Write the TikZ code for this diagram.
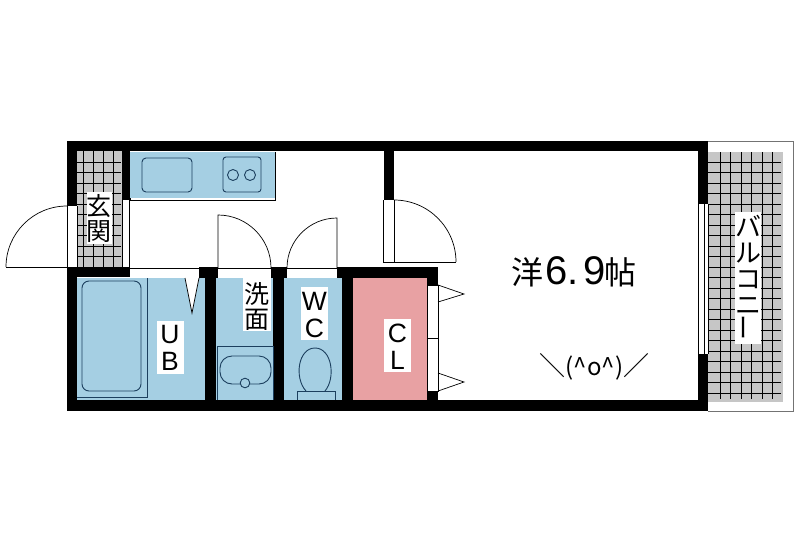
\documentclass[tikz,border=0pt]{standalone}
\usepackage{fontspec}
\setmainfont{Liberation Sans}
\newfontfamily\jpfont{Noto Sans CJK JP}
\definecolor{roomblue}{HTML}{A5CFE3}
\definecolor{clpink}{HTML}{E8A1A3}
\definecolor{tilegray}{HTML}{C6C6C6}
\definecolor{fixture}{HTML}{1C3F5E}
\tikzset{
  wall/.style={fill=black,draw=none},
  thin line/.style={draw=black,line width=0.7pt},
  fixture line/.style={draw=fixture,line width=0.9pt},
  tile/.style={fill=tilegray,draw=none},
  grout/.style={draw=black,line width=0.8pt},
  labelbox/.style={fill=white,draw=none,inner sep=0pt,align=center},
  jp/.style={font=\jpfont\fontsize{#1}{#1}\selectfont},
  latin/.style={font=\fontsize{26.5}{27}\selectfont}
}
\begin{document}
\begin{tikzpicture}[x=1pt,y=-1pt]
\useasboundingbox[fill=white] (0,0) rectangle (800,552);
% balcony
\draw[draw=black!55,line width=0.7pt] (708,141) -- (793,141) -- (793,411) -- (708,411);
\fill[tile] (708,152) rectangle (783,402);
\foreach \x in {720,730.5,741,751.5,762,772.5}
  \draw[grout] (\x,152) -- (\x,399);
\foreach \y in {162,172.5,183,193.5,204,214.5,225,235.5,246,256.5,267,277.5,288,298.5,309,319.5,330,340.5,351,361.5,372,382.5,393}
  \draw[grout] (708,\y) -- (781,\y);
% entrance tile
\fill[tile] (77,151) rectangle (122,268);
\foreach \x in {83,93,103,113}
  \draw[grout] (\x,151) -- (\x,267);
\foreach \y in {162,172,183,193,204,214,225,235,246,256}
  \draw[grout] (77,\y) -- (121,\y);
% rooms
\fill[roomblue] (77,278) rectangle (205,400);
\fill[roomblue] (216,278) rectangle (273,400);
\fill[roomblue] (284,278) rectangle (342,400);
\fill[clpink] (353,278) rectangle (427,400);
% kitchen
\draw[thin line,fill=white] (130,152) rectangle (275,200);
\fill[roomblue] (130,152) rectangle (275,198);
\draw[fixture line,rounded corners=4pt] (142,158) rectangle (192,192);
\draw[fixture line,rounded corners=3pt] (223,157) rectangle (261,192);
\draw[fixture line] (233,175) circle (5.5);
\draw[fixture line] (250,175) circle (5.5);
% walls
\fill[wall] (67,141) rectangle (708,151);
\fill[wall] (67,141) rectangle (77,206);
\fill[wall] (122,151) rectangle (130,199);
\fill[wall] (67,267) rectangle (130,277);
\fill[wall] (67,267) rectangle (77,411);
\fill[wall] (67,400) rectangle (708,411);
\fill[wall] (199,267) rectangle (218,278);
\fill[wall] (205,267) rectangle (216,411);
\fill[wall] (271,267) rectangle (287,278);
\fill[wall] (273,267) rectangle (284,411);
\fill[wall] (337,267) rectangle (438,278);
\fill[wall] (342,267) rectangle (353,411);
\fill[wall] (427,267) rectangle (438,285);
\fill[wall] (427,391) rectangle (438,411);
\fill[wall] (384,151) rectangle (394,200);
\fill[wall] (698,141) rectangle (708,204);
\fill[wall] (698,354) rectangle (708,411);
% openings in walls
\draw[thin line,fill=white] (122,199) rectangle (129,267);
\draw[thin line] (130,268) -- (199,268);
\draw[thin line] (218,268) -- (271,268);
\draw[thin line] (287,268) -- (337,268);
% entrance door
\draw[thin line] (77,206) -- (77,267);
\draw[thin line] (67,206) -- (67,267) -- (6,267);
\draw[thin line] (67,206) arc[start angle=270,end angle=180,radius=61];
% inner doors
\draw[thin line] (218,268) -- (218,215) arc[start angle=-90,end angle=0,radius=53];
\draw[thin line] (337,268) -- (337,218) arc[start angle=270,end angle=180,radius=50];
\draw[thin line] (383.5,200) -- (383.5,262) -- (456,262);
\draw[thin line] (394,200) -- (394,262);
\draw[thin line] (394,200) arc[start angle=-90,end angle=0,radius=62];
% window
\draw[thin line] (698,204) -- (698,354);
\draw[thin line] (704,204) -- (704,354);
\draw[thin line] (708,204) -- (708,354);
% closet door
\draw[thin line,fill=white] (427.5,285) rectangle (438,338);
\draw[thin line,fill=white] (427.5,338) rectangle (438,391);
\draw[thin line] (438,285) -- (464,294) -- (438,302);
\draw[thin line] (438,373) -- (464,382) -- (438,391);
% bath fixtures
\draw[fixture line] (77,397) -- (147,397) -- (147,278);
\draw[fixture line,rounded corners=7pt] (82,281) rectangle (141,391);
\draw[thin line,fill=white] (185,278) -- (192,313) -- (199,278);
% wash basin
\draw[fixture line] (217,400) -- (217,346) -- (273,346) -- (273,400);
\draw[fixture line,rounded corners=12pt] (220,356) rectangle (271,384);
\draw[fixture line,fill=roomblue] (245,383) circle (4.8);
% toilet
\draw[fixture line] (306,391) .. controls (294,378) and (298,348) .. (315,348) .. controls (332,348) and (336,378) .. (325,391);
\draw[fixture line] (297,400) -- (297,391) -- (335,391) -- (335,400);
% labels
\fill[white] (87,192) rectangle (112,244);
\node[labelbox,jp=25] (genkan) at (99,218) {玄\\[0pt]関};
\fill[white] (157,321) rectangle (184,374);
\node[labelbox,latin] (ub) at (170,347.5) {U\\B};
\fill[white] (243,278) rectangle (271,331);
\node[labelbox,jp=25] (senmen) at (257,306) {洗\\[0pt]面};
\fill[white] (301,287) rectangle (328,340);
\node[labelbox,latin] (wc) at (314.5,315) {W\\C};
\fill[white] (384,319) rectangle (411,372);
\node[labelbox,latin] (cl) at (397.5,347) {C\\L};
\fill[white] (735,212) rectangle (761,344);
\node[labelbox,jp=26] (balcony) at (748,278) {バ\\[0pt]ル\\[0pt]コ\\[0pt]ニ\\[0pt]\rotatebox{90}{ー}};
\node[inner sep=0pt,anchor=base west] (room) at (511,284) {{\jpfont\fontsize{32}{32}\selectfont 洋}\kern2pt{\fontsize{40}{40}\selectfont 6.\kern5pt 9}\kern-1pt{\jpfont\fontsize{32}{32}\selectfont 帖}};
\node[inner sep=0pt,jp=26] (face) at (594.5,367) {＼{\fontsize{24}{24}\selectfont (\^{}o\^{})}／};
\end{tikzpicture}
\end{document}
